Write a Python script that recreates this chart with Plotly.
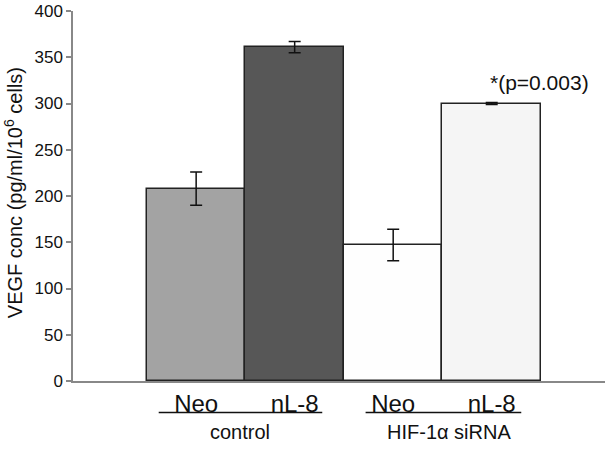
import plotly.graph_objects as go

categories = ["Neo", "nL-8", "Neo", "nL-8"]
values = [208, 361, 147, 300]
errors = [18, 6, 17, 1]
colors = ["#a3a3a3", "#575757", "#fefefe", "#f5f5f5"]
groups = ["control", "HIF-1\u03b1 siRNA"]
yticks = [0, 50, 100, 150, 200, 250, 300, 350, 400]

xpos = list(range(len(values)))

fig = go.Figure()
fig.add_trace(go.Bar(
    x=xpos, y=values, width=1,
    marker=dict(color=colors, line=dict(color="#222222", width=1.5)),
    error_y=dict(type="data", array=errors, visible=True, color="#111111",
                 thickness=1.5, width=6),
    showlegend=False,
))

font = "Liberation Sans, Arial, sans-serif"

# group underline and labels (style offsets relative to category positions)
line_pad = [(-0.38, 0.28), (-0.28, 0.30)]
label_shift = [-0.06, 0.07]
for gi, g in enumerate(groups):
    a = xpos[2 * gi]
    b = xpos[2 * gi + 1]
    fig.add_shape(type="line", xref="x", yref="paper",
                  x0=a + line_pad[gi][0], x1=b + line_pad[gi][1],
                  y0=-0.085, y1=-0.085,
                  line=dict(color="#111111", width=1.5))
    fig.add_annotation(x=(a + b) / 2 + label_shift[gi], y=-0.139,
                       xref="x", yref="paper",
                       text=g, showarrow=False, yanchor="middle",
                       font=dict(size=20, color="#111111", family=font))

fig.add_annotation(x=xpos[3] - 0.04, y=values[3] + 23, xref="x", yref="y",
                   text="*(p=0.003)", showarrow=False, yanchor="middle",
                   xanchor="left",
                   font=dict(size=21, color="#111111", family=font))

# y axis title as rotated annotation
fig.add_annotation(x=-0.113, xref="paper", y=0.51, yref="paper",
                   xanchor="center", yanchor="middle",
                   text="VEGF conc (pg/ml/10<sup>6</sup> cells)",
                   textangle=-90, showarrow=False,
                   font=dict(size=20, color="#111111", family=font))

fig.update_layout(
    width=609, height=454,
    margin=dict(l=73, r=4, t=11, b=72.5, autoexpand=False),
    plot_bgcolor="white", paper_bgcolor="white",
    bargap=0,
    font=dict(family=font, color="#111111"),
)
fig.update_xaxes(
    range=[-1.25, 4.15], tickvals=xpos, ticktext=categories,
    showline=True, linecolor="#888888", linewidth=1.5,
    showgrid=False, zeroline=False, ticks="", automargin=False,
    tickfont=dict(size=24, color="#111111"),
)
fig.update_yaxes(
    range=[0, 400], tickvals=yticks, showline=True, linecolor="#888888",
    linewidth=1.5, showgrid=False, zeroline=False, ticks="outside",
    ticklen=5, tickcolor="#888888", tickwidth=1.5, automargin=False,
    tickfont=dict(size=17, color="#111111"),
)

fig.write_html("out.html", config={"displayModeBar": False},
               post_script="document.body.style.margin='0';"
                           "document.body.style.overflow='hidden';")
